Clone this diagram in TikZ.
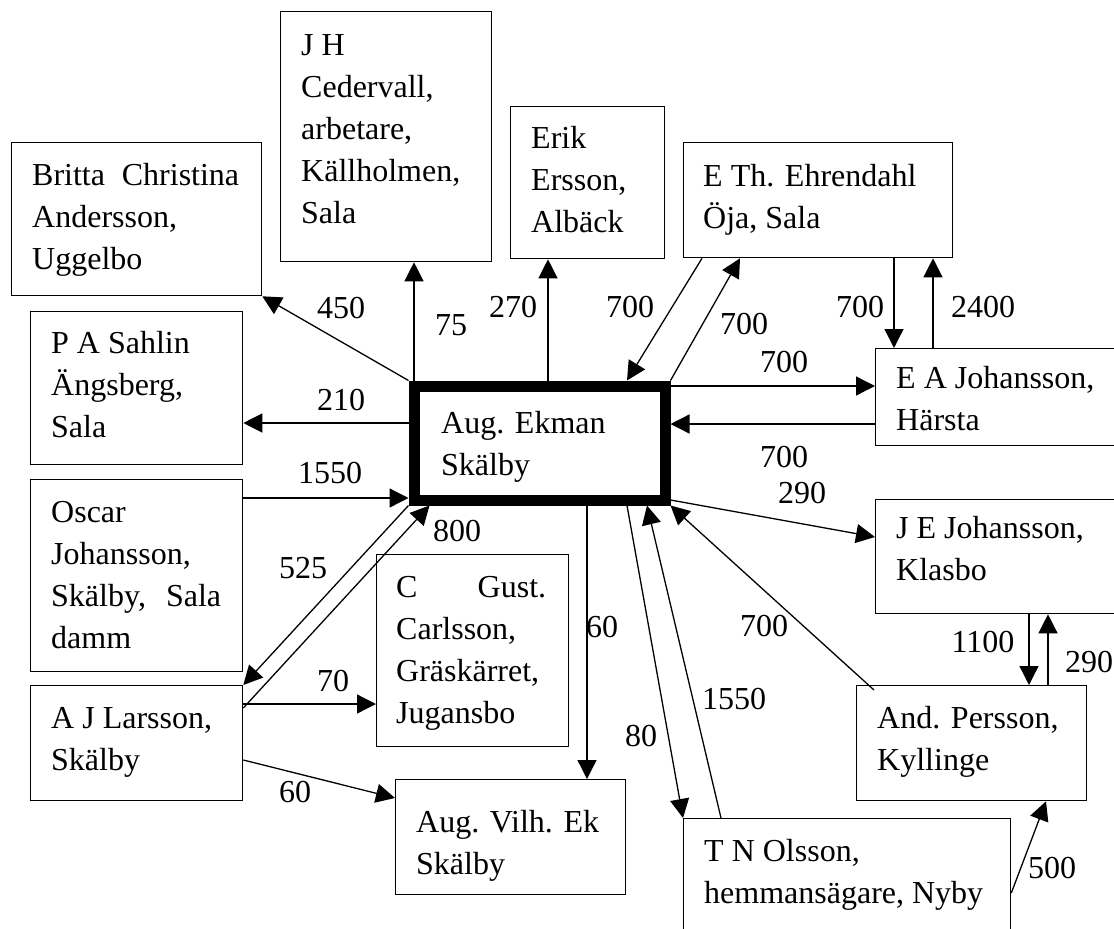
\documentclass[tikz,border=0pt]{standalone}
\usepackage{fontspec}
\setmainfont{Liberation Serif}
\usetikzlibrary{arrows.meta,calc}
% strut that fixes the height of the first text line in every box
\newcommand\fstrut{\rule{0pt}{24pt}}
\begin{document}
\begin{tikzpicture}[x=1pt,y=-1pt,
  every node/.style={font=\fontsize{32}{42}\selectfont},
  box/.style={draw, line width=1.3pt, rectangle, anchor=north west, inner sep=0pt},
  mainbox/.style={draw, line width=11pt, rectangle, inner sep=0pt},
  txt/.style={anchor=north west, inner sep=0pt, align=left},
  num/.style={inner sep=0pt},
  arr/.style={line width=1.3pt, -{Triangle[length=19pt,width=19pt]}}]
\useasboundingbox (0,0) rectangle (1114,929);

% ---- boxes ----
\node[box, minimum width=211pt, minimum height=250pt] (ced)  at (280,11)  {};
\node[box, minimum width=250pt, minimum height=153pt] (brit) at (11,142)  {};
\node[box, minimum width=154pt, minimum height=152pt] (erik) at (510,106) {};
\node[box, minimum width=269pt, minimum height=115pt] (ehr)  at (683,142) {};
\node[box, minimum width=212pt, minimum height=153pt] (sahl) at (30,311)  {};
\node[mainbox, minimum width=251pt, minimum height=114pt] (ekman) at (539.5,443) {};
\node[box, minimum width=260pt, minimum height=97pt]  (eaj)  at (875,348) {};
\node[box, minimum width=212pt, minimum height=192pt] (osc)  at (30,479)  {};
\node[box, minimum width=212pt, minimum height=115pt] (ajl)  at (30,685)  {};
\node[box, minimum width=192pt, minimum height=192pt] (cgus) at (376,554) {};
\node[box, minimum width=230pt, minimum height=115pt] (vilh) at (395,779) {};
\node[box, minimum width=260pt, minimum height=114pt] (jej)  at (875,499) {};
\node[box, minimum width=230pt, minimum height=115pt] (pers) at (856,685) {};
\node[box, minimum width=327pt, minimum height=150pt] (olss) at (683,818) {};

% ---- texts ----
\node[txt] (ced-t)   at (301,31)  {\fstrut J H\\Cedervall,\\arbetare,\\Källholmen,\\Sala};
\node[txt] (brit-t)  at (32,161)  {\fstrut\makebox[207pt][s]{Britta Christina}\\Andersson,\\Uggelbo};
\node[txt] (erik-t)  at (531,124) {\fstrut Erik\\Ersson,\\Albäck};
\node[txt] (ehr-t)   at (703,162) {\fstrut E Th. Ehrendahl\\Öja, Sala};
\node[txt] (sahl-t)  at (51,329)  {\fstrut P A Sahlin\\Ängsberg,\\Sala};
\node[txt] (ekman-t) at (441,409) {\fstrut Aug. Ekman\\Skälby};
\node[txt] (eaj-t)   at (896,364) {\fstrut E A Johansson,\\Härsta};
\node[txt] (osc-t)   at (51,498)  {\fstrut Oscar\\Johansson,\\\makebox[170pt][s]{Skälby, Sala}\\damm};
\node[txt] (ajl-t)   at (51,704)  {\fstrut A J Larsson,\\Skälby};
\node[txt] (cgus-t)  at (396,573) {\fstrut\makebox[150pt][s]{C Gust.}\\Carlsson,\\Gräskärret,\\Jugansbo};
\node[txt] (vilh-t)  at (416,808) {\fstrut Aug. Vilh. Ek\\Skälby};
\node[txt] (jej-t)   at (896,514) {\fstrut J E Johansson,\\Klasbo};
\node[txt] (pers-t)  at (877,704) {\fstrut And. Persson,\\Kyllinge};
\node[txt] (olss-t)  at (704,837) {\fstrut T N Olsson,\\hemmansägare, Nyby};

% ---- connectors ----
\draw[arr] (ekman.north west) -- (brit.south east);
\draw[arr] ($(ekman.north west)+(5.5,0)$) -- ($(ced.south west)+(134,0)$);
\draw[arr] ($(ekman.north west)+(139.5,0)$) -- ($(erik.south west)+(38,0)$);
\draw[arr] ($(ehr.south west)+(19,0)$) -- ($(ekman.north west)+(218.5,0)$);
\draw[arr] (ekman.north east) -- ($(ehr.south west)+(57,0)$);
\draw[arr] ($(ehr.south west)+(211,0)$) -- ($(eaj.north west)+(19,0)$);
\draw[arr] ($(eaj.north west)+(58,0)$) -- ($(ehr.south west)+(250,0)$);
\draw[arr] ($(ekman.north east)+(0,5.5)$) -- ($(eaj.north west)+(0,38)$);
\draw[arr] ($(eaj.north west)+(0,76)$) -- ($(ekman.north east)+(0,43.5)$);
\draw[arr] ($(ekman.north west)+(0,42.5)$) -- ($(sahl.north east)+(0,112)$);
\draw[arr] ($(osc.north east)+(0,19)$) -- ($(ekman.south west)+(0,-7.5)$);
\draw[arr] (ekman.south west) -- (ajl.north east);
\draw[arr] ($(ajl.north east)+(0,23)$) -- ($(ekman.south west)+(21,0)$);
\draw[arr] ($(ajl.north east)+(0,19)$) -- ($(cgus.north west)+(0,150)$);
\draw[arr] ($(ajl.north east)+(0,75)$) -- ($(vilh.north west)+(0,19)$);
\draw[arr] ($(ekman.south west)+(178.5,0)$) -- ($(vilh.north west)+(192,0)$);
\draw[arr] ($(ekman.south west)+(218.5,0)$) -- (olss.north west);
\draw[arr] ($(olss.north west)+(38,0)$) -- ($(ekman.south west)+(238.5,0)$);
\draw[arr] ($(ekman.south east)+(0,-5.5)$) -- ($(jej.north west)+(0,38)$);
\draw[arr] ($(pers.north west)+(18,5)$) -- (ekman.south east);
\draw[arr] ($(jej.south west)+(154,0)$) -- ($(pers.north west)+(173,0)$);
\draw[arr] ($(pers.north west)+(192,0)$) -- ($(jej.south west)+(173,0)$);
\draw[arr] ($(olss.north east)+(0,75)$) -- ($(pers.south west)+(190,0)$);

% ---- amounts ----
\node[num] (n450)  at (341,308) {450};
\node[num] (n75)   at (451,325) {75};
\node[num] (n270)  at (513,307) {270};
\node[num] (n210)  at (341,400) {210};
\node[num] (n1550a) at (330,473) {1550};
\node[num] (n800)  at (457,531) {800};
\node[num] (n525)  at (303,568) {525};
\node[num] (n70)   at (333,681) {70};
\node[num] (n60a)  at (295,792) {60};
\node[num] (n700a) at (630,307) {700};
\node[num] (n700b) at (744,324) {700};
\node[num] (n700c) at (860,307) {700};
\node[num] (n2400) at (983,307) {2400};
\node[num] (n700d) at (784,362) {700};
\node[num] (n700e) at (784,457) {700};
\node[num] (n290a) at (802,493) {290};
\node[num] (n60b)  at (602,627) {60};
\node[num] (n700f) at (764,626) {700};
\node[num] (n1100) at (983,642) {1100};
\node[num] (n290b) at (1089,662) {290};
\node[num] (n1550b) at (734,699) {1550};
\node[num] (n80)   at (641,736) {80};
\node[num] (n500)  at (1052,868) {500};
\end{tikzpicture}
\end{document}
